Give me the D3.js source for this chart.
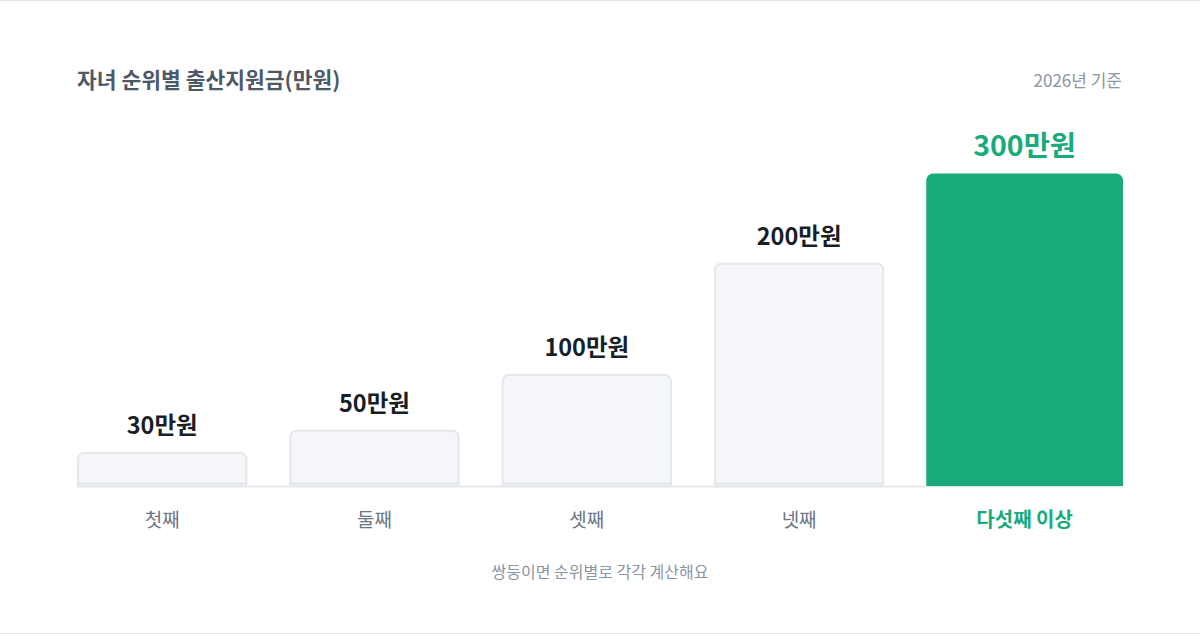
<!DOCTYPE html>
<html><head><meta charset="utf-8">
<script src="https://cdn.jsdelivr.net/npm/d3@7/dist/d3.min.js"></script>
<style>
html,body{margin:0;padding:0;background:#fff;}
svg{display:block;font-family:"Noto Sans CJK KR","Noto Sans",sans-serif;}
</style></head>
<body>
<svg id="chart" width="1200" height="635"></svg>
<script>
const title = "자녀 순위별 출산지원금(만원)";
const subtitle = "2026년 기준";
const footnote = "쌍둥이면 순위별로 각각 계산해요";
const categories = ["첫째", "둘째", "셋째", "넷째", "다섯째 이상"];
const values = [30, 50, 100, 200, 300];
const valueLabels = ["30만원", "50만원", "100만원", "200만원", "300만원"];
const highlight = [false, false, false, false, true];

const W = 1200, H = 635;
const left = 77, right = 1123, baseY = 485.5, gap = 42;
const widthWeight = d => d ? 1.155 : 1;

const svg = d3.select("#chart");

// card border lines
svg.append("line").attr("x1",0).attr("x2",W).attr("y1",0.5).attr("y2",0.5).attr("stroke","#e5e8eb");
svg.append("line").attr("x1",0).attr("x2",W).attr("y1",633.5).attr("y2",633.5).attr("stroke","#e5e8eb");

svg.append("text").attr("x",77).attr("y",88).attr("font-size",21.5).attr("font-weight",700)
  .attr("fill","#4e5968").text(title);
svg.append("text").attr("x",1122).attr("y",87).attr("text-anchor","end").attr("font-size",17)
  .attr("fill","#8b95a1").text(subtitle);

// horizontal layout from weights
const weights = highlight.map(widthWeight);
const totalW = right - left - gap * (categories.length - 1);
const unit = totalW / d3.sum(weights);
const x0 = [];
let acc = left;
weights.forEach((w,i) => { x0.push(acc); acc += w*unit + gap; });

const y = d3.scaleLinear().domain([0, 280]).range([baseY, baseY - 312]).clamp(true);

function topRounded(x, yTop, w, h, r) {
  const p = d3.path();
  p.moveTo(x, yTop + h);
  p.lineTo(x, yTop + r);
  p.arcTo(x, yTop, x + r, yTop, r);
  p.lineTo(x + w - r, yTop);
  p.arcTo(x + w, yTop, x + w, yTop + r, r);
  p.lineTo(x + w, yTop + h);
  return p.toString();
}

// baseline
svg.append("line").attr("x1",left).attr("x2",right).attr("y1",baseY+1).attr("y2",baseY+1)
  .attr("stroke","#e5e8eb").attr("stroke-width",2);

const data = categories.map((c,i)=>({c, v:values[i], lab:valueLabels[i], hi:highlight[i], x:x0[i], w:weights[i]*unit}));

const g = svg.append("g");
g.selectAll("path.bar").data(data).join("path")
  .attr("class","bar")
  .attr("d", d => d.hi
    ? topRounded(d.x, y(d.v), d.w, baseY + 0.5 - y(d.v), 7) + "Z"
    : topRounded(d.x + 1, y(d.v) + 1, d.w - 2, baseY - y(d.v) - 1, 6))
  .attr("fill", d => d.hi ? "#19aa7c" : "#f4f6fa")
  .attr("stroke", d => d.hi ? "none" : "#e5e8eb")
  .attr("stroke-width", 2);

// bottom strip on light bars
g.selectAll("rect.strip").data(data.filter(d=>!d.hi)).join("rect")
  .attr("class","strip")
  .attr("x", d => d.x).attr("width", d => d.w)
  .attr("y", baseY - 3).attr("height", 3)
  .attr("fill","#e5e8eb");

g.selectAll("text.val").data(data).join("text")
  .attr("class","val")
  .attr("x", d => d.x + d.w/2)
  .attr("y", d => y(d.v) - (d.hi ? 18 : 18))
  .attr("text-anchor","middle")
  .attr("font-size", d => d.hi ? 28.5 : 23.5)
  .attr("font-weight",700)
  .attr("fill", d => d.hi ? "#19aa7c" : "#191f28")
  .text(d => d.lab);

g.selectAll("text.cat").data(data).join("text")
  .attr("class","cat")
  .attr("x", d => d.x + d.w/2)
  .attr("y", 527)
  .attr("text-anchor","middle")
  .attr("font-size", d => d.hi ? 20 : 19)
  .attr("font-weight", d => d.hi ? 700 : 400)
  .attr("fill", d => d.hi ? "#19aa7c" : "#6b7684")
  .text(d => d.c);

svg.append("text").attr("x",600).attr("y",578).attr("text-anchor","middle").attr("font-size",16)
  .attr("fill","#8b95a1").text(footnote);
</script>
</body></html>
